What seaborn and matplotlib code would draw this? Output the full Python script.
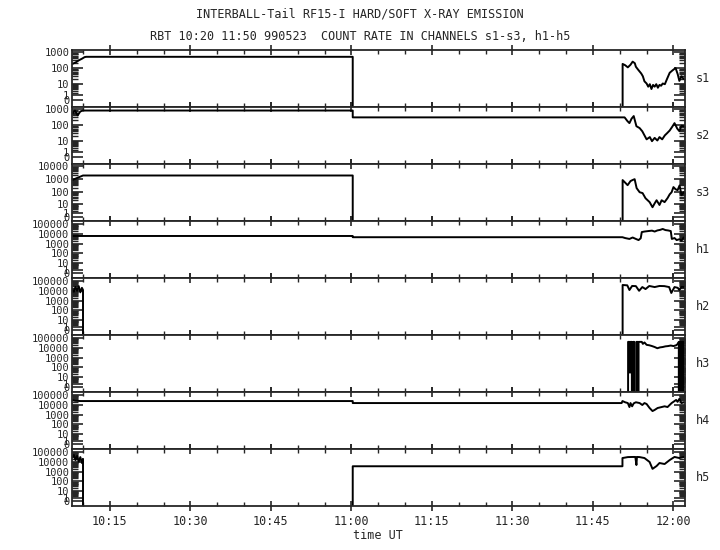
import numpy as np
import matplotlib
matplotlib.use('Agg')
import matplotlib.pyplot as plt
import seaborn as sns
from matplotlib.ticker import FixedLocator, FixedFormatter

GAP = -1  # no counts / dropout, drawn down at the panel floor

# time in minutes after 10:00 UT, count rates
s1_t = [8, 8.6, 9.2, 9.8, 10.3, 10.6, 60.25, 60.25, 110.53, 110.53, 111.0, 111.5, 112.0, 112.4,
        112.8, 113.0, 113.4, 113.7, 114.0, 114.3, 114.6, 115.0, 115.3, 115.6, 115.9, 116.2, 116.5,
        116.8, 117.1, 117.4, 117.7, 118.0, 118.4, 118.8, 119.3, 119.8, 120.4, 120.8, 121.1, 121.5, 121.9]
s1_v = [180, 220, 300, 380, 480, 500, 500, GAP, GAP, 180, 150, 110, 160, 250,
        200, 120, 80, 60, 45, 30, 14, 10, 6, 9, 4, 8, 6,
        9, 5, 8, 7, 10, 9, 20, 50, 70, 100, 40, 15, 30, 20]

s2_t = [8, 8.5, 9.0, 9.5, 10.0, 60.25, 60.25, 110.9, 111.4, 111.8, 112.2, 112.6, 113.1, 113.7,
        114.2, 114.6, 115.0, 115.6, 116.0, 116.5, 117.0, 117.4, 117.9, 118.4, 118.8, 119.3, 119.8,
        120.2, 120.7, 121.1, 121.5, 121.9]
s2_v = [500, 800, 400, 700, 800, 800, 300, 300, 180, 131, 250, 362, 84, 64,
        40, 22, 12, 17, 9, 15, 10, 17, 12, 22, 30, 45, 80,
        131, 60, 41, 90, 84]

s3_t = [8, 9, 10, 60.25, 60.25, 110.53, 110.53, 111.0, 111.46, 112.0, 112.4, 112.77, 113.14,
        113.7, 114.25, 114.8, 115.56, 116.1, 116.5, 116.86, 117.4, 117.8, 118.35, 118.9, 119.3,
        119.66, 120.0, 120.4, 120.77, 121.14, 121.5, 121.9]
s3_v = [800, 1200, 1800, 1800, GAP, GAP, 790, 500, 315, 660, 800, 930, 185,
        88, 75, 29, 14, 5, 11, 20, 8, 20, 14, 30, 60,
        88, 223, 150, 128, 300, 51, 88]

h1_t = [8, 60.25, 60.25, 110.5, 111.0, 111.8, 112.4, 113.0, 113.5, 113.9, 114.1, 114.6, 115.3,
        116.0, 116.5, 117.0, 117.5, 118.0, 118.5, 119.0, 119.5, 119.7, 120.2, 120.6, 121.1, 121.5, 121.9]
h1_v = [6000, 6000, 4500, 4500, 3700, 3000, 4200, 3000, 2300, 3500, 15000, 17000, 19000,
        21000, 17000, 22000, 25000, 31000, 24000, 22000, 19000, 3000, 3700, 2300, 2800, 2000, 4200]

h2_t = [8, 8.3, 8.6, 8.9, 9.2, 9.5, 9.8, 10.0, 10.0, 110.53, 110.53, 111.4, 111.8, 112.3, 113.0,
        113.6, 114.2, 114.8, 115.5, 116.5, 117.4, 118.3, 119.2, 119.6, 120.2, 120.8, 121.1, 121.5, 121.9]
h2_v = [15000, 8000, 25000, 10000, 30000, 7000, 20000, 12000, GAP, GAP, 39000, 36000, 12000, 31000, 30000,
        10000, 24000, 15000, 31000, 24000, 31000, 30000, 24000, 6000, 24000, 20000, 12000, 25000, 24000]

h3_t = [8, 111.55, 111.55, 111.8, 111.8, 112.0, 112.0, 112.25, 112.25, 112.5, 112.5, 112.7, 112.7,
        113.1, 113.1, 113.35, 113.35, 113.5, 113.5, 114.1, 114.3, 114.6, 115.0, 115.5, 116.0, 116.5,
        117.0, 117.5, 118.0, 118.5, 119.0, 119.5, 120.0, 120.5, 120.8, 121.0, 121.0, 121.2, 121.2,
        121.45, 121.45, 121.6, 121.6, 121.85, 121.85, 122.0]
h3_v = [GAP, GAP, 40000, 40000, 30, 30, 40000, 40000, GAP, GAP, 40000, 40000, GAP,
        GAP, 40000, 40000, GAP, GAP, 40000, 40000, 25000, 35000, 20000, 18000, 15000, 12000,
        9000, 11000, 12000, 14000, 15000, 17000, 15000, 18000, 25000, 40000, GAP, GAP, 40000,
        40000, GAP, GAP, 40000, 40000, GAP, GAP]

h4_t = [8, 8.5, 9.5, 60.25, 60.25, 110.35, 110.5, 111.0, 111.5, 111.8, 112.0, 112.3, 112.6, 113.0,
        113.7, 114.2, 114.6, 115.0, 115.56, 116.1, 116.5, 117.05, 117.8, 118.35, 118.9, 119.66,
        120.2, 120.5, 120.77, 121.1, 121.5, 121.9]
h4_v = [31000, 26000, 24000, 24000, 15000, 15000, 24000, 18000, 15000, 5900, 15000, 7000, 14000, 18000,
        15000, 9500, 15000, 12000, 4700, 2300, 3000, 4700, 5900, 7000, 5900, 15000,
        24000, 31000, 20000, 40000, 15000, 18000]

h5_t = [8, 8.3, 8.6, 8.9, 9.2, 9.5, 9.8, 10.0, 10.0, 60.25, 60.25, 110.5, 110.5, 111.5, 112.5,
        112.9, 113.1, 113.2, 113.7, 114.6, 115.56, 116.1, 116.86, 117.4, 118.35, 119.3, 120.2, 121.1, 121.9]
h5_v = [30000, 49000, 15000, 40000, 10000, 30000, 7500, 20000, GAP, GAP, 3500, 3500, 24000, 30000, 31000,
        31000, 4700, 31000, 30000, 24000, 9500, 1900, 3700, 7500, 5900, 15000, 31000, 24000, 31000]

CHANNELS = ['s1', 's2', 's3', 'h1', 'h2', 'h3', 'h4', 'h5']
SERIES = [(s1_t, s1_v), (s2_t, s2_v), (s3_t, s3_v), (h1_t, h1_v),
          (h2_t, h2_v), (h3_t, h3_v), (h4_t, h4_v), (h5_t, h5_v)]
TOP_DECADE = [3, 3, 4, 5, 5, 5, 5, 5]

X_TICKS = [15, 30, 45, 60, 75, 90, 105, 120]
X_LABELS = ['10:15', '10:30', '10:45', '11:00', '11:15', '11:30', '11:45', '12:00']
X_MINOR = list(range(10, 125, 5))


def fwd(v):
    # log10(1 + counts), so a zero count still has a place on the axis
    return np.log10(np.clip(1 + np.asarray(v, dtype=float), 1e-3, None))


def inv(u):
    return 10 ** np.asarray(u, dtype=float) - 1


def main():
    sns.set_theme(style='ticks')
    plt.rcParams['font.family'] = ['DejaVu Sans Mono']
    plt.rcParams['axes.linewidth'] = 1.3

    fig, axes = plt.subplots(8, 1, figsize=(7.2, 5.5), dpi=100, sharex=True)
    fig.subplots_adjust(left=0.1, right=0.951, top=0.909, bottom=0.08, hspace=0)

    for ax, name, (t, v), top in zip(axes, CHANNELS, SERIES, TOP_DECADE):
        sns.lineplot(x=t, y=v, ax=ax, color='black', linewidth=1.4,
                     estimator=None, sort=False, legend=False)
        ax.set_yscale('function', functions=(fwd, inv))
        if top == 3:
            lo, hi = -0.42, 3.12
        elif top == 4:
            lo, hi = -0.3, 4.15
        else:
            lo, hi = -0.5, 5.3
        ax.set_ylim(inv(lo), inv(hi))

        major = [0] + [10 ** n for n in range(top + 1)]
        minor = [k * 10 ** n for n in range(top) for k in range(2, 10)]
        ax.yaxis.set_major_locator(FixedLocator(major))
        ax.yaxis.set_major_formatter(FixedFormatter([str(m) for m in major]))
        ax.yaxis.set_minor_locator(FixedLocator(minor))
        ax.tick_params(axis='y', which='major', direction='in', length=8, width=1.2,
                       left=True, right=True, labelsize=7.5, pad=2)
        ax.tick_params(axis='y', which='minor', direction='in', length=4, width=1,
                       left=True, right=True)

        ax.set_xlim(7.95, 122.1)
        ax.xaxis.set_major_locator(FixedLocator(X_TICKS))
        ax.xaxis.set_minor_locator(FixedLocator(X_MINOR))
        ax.tick_params(axis='x', which='major', direction='inout', length=7, width=1.2,
                       top=True, bottom=True, labelsize=8.5, pad=3)
        ax.tick_params(axis='x', which='minor', direction='in', length=3, width=1,
                       top=True, bottom=True)
        ax.set_ylabel('')
        ax.set_facecolor('white')
        ax.text(1.018, 0.5, name, transform=ax.transAxes, ha='left', va='center', fontsize=8.5)

    axes[-1].xaxis.set_major_formatter(FixedFormatter(X_LABELS))
    axes[-1].set_xlabel('time UT', fontsize=8.5, labelpad=1)

    fig.text(0.5, 1 - 14 / 550, 'INTERBALL-Tail RF15-I HARD/SOFT X-RAY EMISSION',
             ha='center', va='center', fontsize=8.5)
    fig.text(0.5, 1 - 37 / 550, 'RBT 10:20 11:50 990523  COUNT RATE IN CHANNELS s1-s3, h1-h5',
             ha='center', va='center', fontsize=8.5)

    fig.savefig('out.png', dpi=100, facecolor='white')


if __name__ == '__main__':
    main()
